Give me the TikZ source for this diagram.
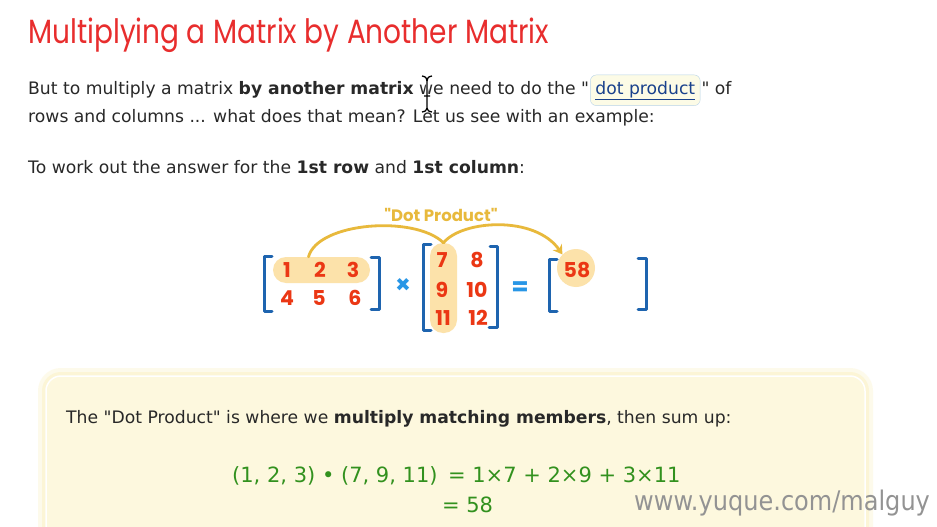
\documentclass[tikz,border=0pt]{standalone}
\usepackage{fontspec}
\setmainfont{DejaVu Sans}
\newfontfamily\titlefont{Poppins}
\usetikzlibrary{arrows.meta, positioning, calc}
\definecolor{ttlred}{RGB}{232,45,45}
\definecolor{bodygray}{RGB}{40,40,40}
\definecolor{linkblue}{RGB}{25,65,140}
\definecolor{linkfill}{RGB}{252,251,230}
\definecolor{linkedge}{RGB}{185,212,232}
\definecolor{numred}{RGB}{235,55,20}
\definecolor{hlorange}{RGB}{252,226,170}
\definecolor{gold}{RGB}{232,185,60}
\definecolor{brkblue}{RGB}{30,100,175}
\definecolor{opblue}{RGB}{40,150,230}
\definecolor{boxfill}{RGB}{253,248,222}
\definecolor{boxglow}{RGB}{252,243,200}
\definecolor{eqgreen}{RGB}{50,145,30}
\newcommand{\qq}{\textquotedbl}

\begin{document}
\begin{tikzpicture}[x=1pt, y=-1pt,
  txt/.style={anchor=base west, inner sep=0pt, text=bodygray,
    font=\fontsize{17.2}{20}\selectfont},
  num/.style={text=numred, inner sep=0pt,
    font=\titlefont\bfseries\fontsize{20.5}{22}\selectfont},
  op/.style={text=opblue, inner sep=0pt,
    font=\titlefont\bfseries\fontsize{25}{27}\selectfont},
  hl/.style={fill=hlorange, inner sep=0pt},
  brk/.style={draw=brkblue, line width=3pt, line cap=round, line join=round},
  arr/.style={draw=gold, line width=2.8pt, line cap=round},
  eq/.style={anchor=base west, inner sep=0pt, text=eqgreen,
    font=\fontsize{21}{24}\selectfont}
]
\clip (0,0) rectangle (937,527);
\fill[white] (0,0) rectangle (937,527);

% title and text
\node[anchor=base west, inner sep=0pt, text=ttlred,
  font=\titlefont\fontsize{28}{32}\selectfont] (title) at (28,44)
  {\scalebox{1}[1.2]{Multiplying a Matrix by Another Matrix}};
\node[txt] (line1) at (28,94)
  {But to multiply a matrix \textbf{by another matrix} we need to do the \qq};
\node[anchor=base west, text=linkblue, fill=linkfill, draw=linkedge,
  rounded corners=6pt, inner xsep=5pt, inner ysep=6pt,
  font=\fontsize{17.2}{20}\selectfont] (link) at ([xshift=1pt]line1.base east)
  {\underline{dot product}};
\node[txt] (line1b) at ([xshift=1pt]link.base east) {\qq\ of};
\node[txt] (line2) at (28,122)
  {rows and columns ... what does that mean? Let us see with an example:};
\node[txt] (line3) at (28,173)
  {To work out the answer for the \textbf{1st row} and \textbf{1st column}:};

% cursor
\draw[white, line width=2.5pt] (422,76) .. controls (426,77) .. (427,81) -- (427,108)
  .. controls (426,111) .. (422,112);
\draw[black, line width=1.3pt] (422,76) .. controls (426,77) .. (427,81) -- (427,108)
  .. controls (426,111) .. (422,112);
\draw[black, line width=1.3pt] (432,76) .. controls (428,77) .. (427,81)
  (427,108) .. controls (428,111) .. (432,112) (424,96) -- (430,96);

% highlights
\node[hl, rounded corners=13pt, minimum width=97pt, minimum height=26pt]
  (rowhl) at (321.5,270) {};
\node[hl, rounded corners=13pt, minimum width=27pt, minimum height=90pt]
  (colhl) at (443.5,288) {};
\node[hl, circle, minimum size=38pt] (reshl) at (576,268) {};

% numbers
\node[num] (a11) at (287,270) {1};
\node[num] (a12) at (320,270) {2};
\node[num] (a13) at (353,270) {3};
\node[num] (a21) at (287,298) {4};
\node[num] (a22) at (319,298) {5};
\node[num] (a23) at (355,298) {6};
\node[num] (b11) at (442,260) {7};
\node[num] (b12) at (477,260) {8};
\node[num] (b21) at (442,290) {9};
\node[num] (b22) at (477,290) {10};
\node[num] (b31) at (443,318) {11};
\node[num] (b32) at (478,318) {12};
\node[num] (c11) at (577,270) {58};
\node[op] (times) at (403,286) {×};
\node[op] (equals) at (520,289) {=};

% brackets
\draw[brk] (272,256) -- (264,256) -- (264,311) -- (272,311);
\draw[brk] (371,257) -- (379,257) -- (379,309) -- (371,309);
\draw[brk] (431,244) -- (423,244) -- (423,330) -- (431,330);
\draw[brk] (490,246) -- (497,246) -- (497,327) -- (489,327);
\draw[brk] (557,259) -- (549,259) -- (549,311) -- (557,311);
\draw[brk] (638,258) -- (646,258) -- (646,309) -- (638,309);

% dot product arrows
\node[text=gold, inner sep=0pt, font=\titlefont\bfseries\fontsize{16.5}{18}\selectfont]
  (dplabel) at (441,215) {\qq Dot Product\qq};
\draw[arr] ([xshift=-13pt]rowhl.north) .. controls (318,222) and (415,215) .. (colhl.north);
\draw[arr, -{Stealth[length=9pt, width=11pt]}] (colhl.north)
  .. controls (462,220) and (535,215) .. (reshl.north west);

% lower box
\draw[boxglow, line width=16pt, opacity=0.35, rounded corners=15pt]
  (46,376) rectangle (865,560);
\draw[boxglow, line width=8pt, opacity=0.6, rounded corners=15pt]
  (46,376) rectangle (865,560);
\draw[white, fill=boxfill, line width=1.5pt, rounded corners=15pt]
  (46,376) rectangle (865,560);
\node[txt] (dottext) at (66,423)
  {The \qq Dot Product\qq\ is where we \textbf{multiply matching members}, then sum up:};
\node[eq] (lhs) at (232,482) {(1, 2, 3) • (7, 9, 11)};
\node[eq] (rhs) at ([xshift=10pt]lhs.base east) {= 1×7 + 2×9 + 3×11};
\node[eq] (sum) at ([xshift=-6pt]rhs.base west |- 0,512) {= 58};

% watermark
\node[anchor=base west, inner sep=0pt, text=gray!85,
  font=\fontsize{27}{30}\selectfont] (wmark) at (634,510)
  {\scalebox{0.89}[1]{www.yuque.com/malguy}};
\end{tikzpicture}
\end{document}
